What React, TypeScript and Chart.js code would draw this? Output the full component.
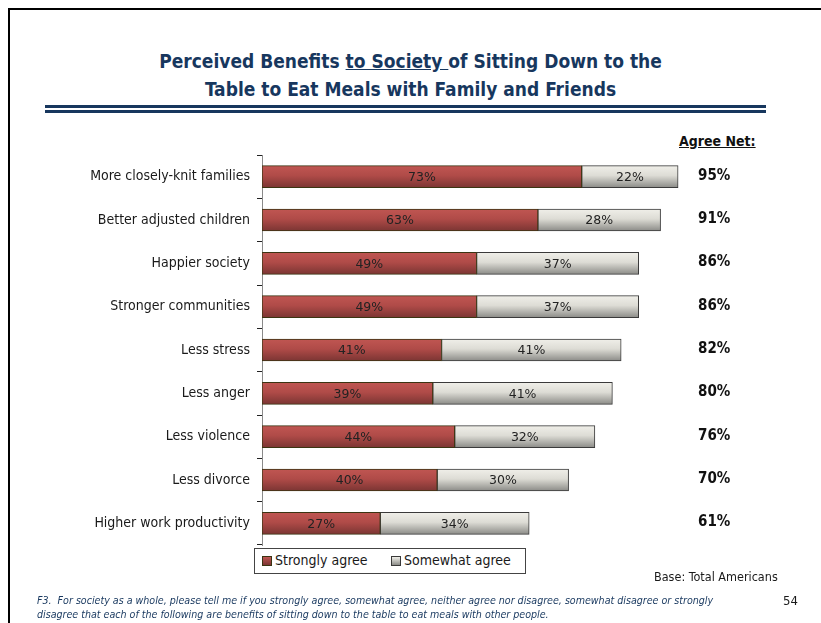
import React, { useEffect, useRef } from "react";
import { Chart, registerables } from "chart.js";

Chart.register(...registerables);

const categories = [
  "More closely-knit families",
  "Better adjusted children",
  "Happier society",
  "Stronger communities",
  "Less stress",
  "Less anger",
  "Less violence",
  "Less divorce",
  "Higher work productivity",
];
const stronglyAgree = [73, 63, 49, 49, 41, 39, 44, 40, 27];
const somewhatAgree = [22, 28, 37, 37, 41, 41, 32, 30, 34];
const agreeNet = [95, 91, 86, 86, 82, 80, 76, 70, 61];
const seriesNames = ["Strongly agree", "Somewhat agree"];

const NARROW = '"DejaVu Sans Condensed", "Liberation Sans Narrow", sans-serif';

function barGradient(ctx: any, stops: [number, string][]) {
  const chart = ctx.chart;
  const y = chart.scales && chart.scales.y;
  if (ctx.type !== "data" || !y || !chart.chartArea) return stops[1][1];
  const c = y.getPixelForValue(ctx.dataIndex);
  const g = chart.ctx.createLinearGradient(0, c - 11, 0, c + 11);
  stops.forEach(([o, col]) => g.addColorStop(o, col));
  return g;
}

const redStops: [number, string][] = [
  [0, "#c05652"],
  [0.45, "#b04b48"],
  [1, "#7b3533"],
];
const greyStops: [number, string][] = [
  [0, "#f0efe9"],
  [0.45, "#dddcd5"],
  [1, "#8b8b87"],
];

const labelsPlugin = {
  id: "labelsPlugin",
  afterDatasetsDraw(chart: any) {
    const ctx = chart.ctx;
    ctx.save();
    ctx.textAlign = "center";
    ctx.textBaseline = "middle";
    ctx.font = '12.5px "DejaVu Sans", sans-serif';
    ctx.fillStyle = "#222";
    chart.data.datasets.forEach((ds: any, di: number) => {
      const meta = chart.getDatasetMeta(di);
      meta.data.forEach((el: any, i: number) => {
        const x = (el.x + el.base) / 2;
        ctx.fillText(ds.data[i] + "%", x, el.y + 1);
      });
    });
    // Agree net column
    const yScale = chart.scales.y;
    ctx.textAlign = "left";
    ctx.font = "bold 15px " + NARROW;
    ctx.fillStyle = "#111";
    agreeNet.forEach((v, i) => {
      ctx.fillText(v + "%", chart.chartArea.right - 2, yScale.getPixelForValue(i) - 1);
    });
    ctx.restore();
  },
};

export default function App() {
  const ref = useRef<HTMLCanvasElement>(null);
  useEffect(() => {
    if (!ref.current) return;
    const chart = new Chart(ref.current, {
      type: "bar",
      data: {
        labels: categories,
        datasets: [
          {
            label: seriesNames[0],
            data: stronglyAgree,
            backgroundColor: (c: any) => barGradient(c, redStops),
            borderColor: "#3b3412",
            borderWidth: 1,
            borderSkipped: false,
          },
          {
            label: seriesNames[1],
            data: somewhatAgree,
            backgroundColor: (c: any) => barGradient(c, greyStops),
            borderColor: "#3a3a3a",
            borderWidth: 1,
            borderSkipped: false,
          },
        ],
      },
      options: {
        indexAxis: "y",
        animation: false,
        responsive: false,
        maintainAspectRatio: false,
        events: [],
        layout: { padding: { left: 0, right: 121, top: 155, bottom: 78 } },
        datasets: { bar: { barThickness: 22 } },
        plugins: {
          legend: { display: false },
          title: { display: false },
          tooltip: { enabled: false },
        },
        scales: {
          x: { stacked: true, min: 0, max: 100, display: false },
          y: {
            stacked: true,
            afterFit: (s: any) => {
              s.width = 262;
            },
            border: { display: true, color: "#8a8a8a", width: 1 },
            grid: {
              offset: true,
              drawOnChartArea: false,
              tickLength: 5,
              color: "#222",
            },
            ticks: {
              padding: 7,
              color: "#1a1a1a",
              font: { family: NARROW, size: 14 },
            },
          },
        },
      },
      plugins: [labelsPlugin],
    } as any);
    return () => chart.destroy();
  }, []);

  const navy = "#17375e";
  return (
    <div
      style={{
        position: "absolute",
        left: 0,
        top: 0,
        width: 821,
        height: 623,
        background: "#fff",
        overflow: "hidden",
        fontFamily: NARROW,
      }}
    >
      {/* frame */}
      <div style={{ position: "absolute", left: 8, top: 8, width: 813, height: 2, background: "#000" }} />
      <div style={{ position: "absolute", left: 8, top: 8, width: 2, height: 615, background: "#000" }} />
      {/* title */}
      <div
        style={{
          position: "absolute",
          left: 0,
          width: 821,
          top: 47,
          textAlign: "center",
          color: navy,
          fontWeight: "bold",
          fontSize: 19,
          lineHeight: "28px",
        }}
      >
        <div>
          Perceived Benefits <span style={{ textDecoration: "underline" }}>to Society </span>of Sitting Down to the
        </div>
        <div>Table to Eat Meals with Family and Friends</div>
      </div>
      {/* double rule */}
      <div style={{ position: "absolute", left: 45, top: 105, width: 721, height: 3, background: navy }} />
      <div style={{ position: "absolute", left: 45, top: 110, width: 721, height: 3, background: navy }} />
      {/* agree net header */}
      <div
        style={{
          position: "absolute",
          left: 679,
          top: 133,
          fontWeight: "bold",
          fontSize: 14,
          textDecoration: "underline",
          color: "#111",
        }}
      >
        Agree Net:
      </div>
      <canvas ref={ref} width={821} height={623} style={{ position: "absolute", left: 0, top: 0 }} />
      {/* legend */}
      <div
        style={{
          position: "absolute",
          left: 254,
          top: 548,
          width: 270,
          height: 24,
          border: "1px solid #444",
          background: "#fff",
          fontSize: 14,
          color: "#1a1a1a",
        }}
      >
        <div style={{ position: "absolute", left: 7, top: 7, width: 8, height: 8, border: "1px solid #3b3412", background: "linear-gradient(#c05652,#7b3533)" }} />
        <div style={{ position: "absolute", left: 20, top: 3 }}>{seriesNames[0]}</div>
        <div style={{ position: "absolute", left: 136, top: 7, width: 8, height: 8, border: "1px solid #3a3a3a", background: "linear-gradient(#f0efe9,#8b8b87)" }} />
        <div style={{ position: "absolute", left: 149, top: 3 }}>{seriesNames[1]}</div>
      </div>
      {/* base */}
      <div style={{ position: "absolute", left: 654, top: 569, fontSize: 12.5, color: "#1a1a1a" }}>
        Base: Total Americans
      </div>
      {/* footnote */}
      <div
        style={{
          position: "absolute",
          left: 37,
          top: 593,
          fontSize: 10.6,
          lineHeight: "14px",
          fontStyle: "italic",
          color: navy,
          whiteSpace: "nowrap",
        }}
      >
        <div>
          F3.&nbsp; For society as a whole, please tell me if you strongly agree, somewhat agree, neither agree nor disagree, somewhat disagree or strongly
        </div>
        <div>disagree that each of the following are benefits of sitting down to the table to eat meals with other people.</div>
      </div>
      <div style={{ position: "absolute", left: 783, top: 593, fontSize: 13, color: "#1a1a1a" }}>54</div>
    </div>
  );
}
